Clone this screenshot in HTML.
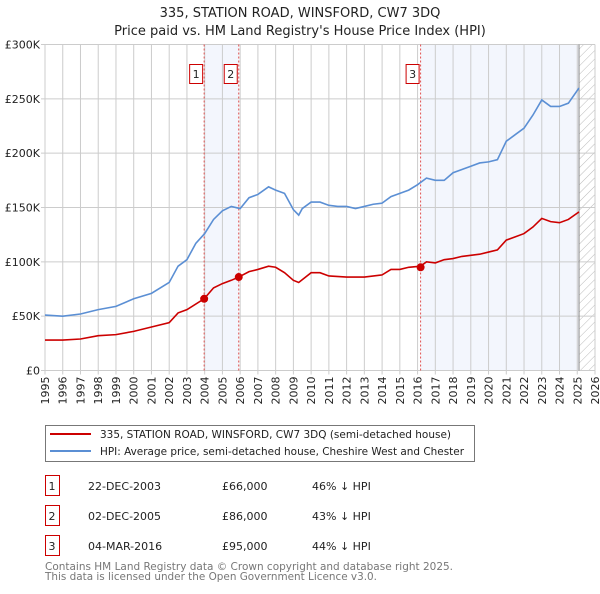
<!DOCTYPE html>
<html><head><meta charset="utf-8"><style>
body{margin:0;background:#fff;font-family:"DejaVu Sans","Liberation Sans",sans-serif;}
svg text{font-family:"DejaVu Sans","Liberation Sans",sans-serif;}
</style></head><body>
<svg id="c" width="600" height="590" xmlns="http://www.w3.org/2000/svg">
<defs><pattern id="hatch" width="6" height="6" patternUnits="userSpaceOnUse" patternTransform="rotate(45)"><line x1="0" y1="0" x2="0" y2="6" stroke="#bbb" stroke-width="1"/></pattern></defs>
<text x="300" y="17" text-anchor="middle" font-size="13" fill="#222">335, STATION ROAD, WINSFORD, CW7 3DQ</text>
<text x="300" y="35" text-anchor="middle" font-size="13" fill="#222">Price paid vs. HM Land Registry's House Price Index (HPI)</text>
<g id="plot"></g>
<g>
<rect x="45.5" y="425.5" width="429" height="36" fill="#fff" stroke="#777"/>
<line x1="50" y1="434" x2="91" y2="434" stroke="#cc0000" stroke-width="2"/>
<text x="100" y="438" font-size="11" fill="#222" textLength="351" lengthAdjust="spacingAndGlyphs">335, STATION ROAD, WINSFORD, CW7 3DQ (semi-detached house)</text>
<line x1="50" y1="451" x2="91" y2="451" stroke="#5b8fd4" stroke-width="2"/>
<text x="100" y="455" font-size="11" fill="#222" textLength="364" lengthAdjust="spacingAndGlyphs">HPI: Average price, semi-detached house, Cheshire West and Chester</text>
</g>
<g id="tbl" font-size="11" fill="#222"></g>
<text x="45" y="570" font-size="11" fill="#777" textLength="408" lengthAdjust="spacingAndGlyphs">Contains HM Land Registry data © Crown copyright and database right 2025.</text>
<text x="45" y="580" font-size="11" fill="#777" textLength="332" lengthAdjust="spacingAndGlyphs">This data is licensed under the Open Government Licence v3.0.</text>
</svg>
<script>
const hpiYears=[1995,1996,1997,1998,1999,2000,2001,2002,2002.5,2003,2003.5,2004,2004.5,2005,2005.5,2006,2006.5,2007,2007.6,2008,2008.5,2009,2009.3,2009.5,2010,2010.5,2011,2011.5,2012,2012.5,2013,2013.5,2014,2014.5,2015,2015.5,2016,2016.5,2017,2017.5,2018,2018.5,2019,2019.5,2020,2020.5,2021,2021.5,2022,2022.5,2023,2023.5,2024,2024.5,2025.1];
const hpiValues=[51,50,52,56,59,66,71,81,96,102,117,126,139,147,151,149,159,162,169,166,163,148,143,149,155,155,152,151,151,149,151,153,154,160,163,166,171,177,175,175,182,185,188,191,192,194,211,217,223,235,249,243,243,246,260];
const propYears=[1995,1996,1997,1998,1999,2000,2001,2002,2002.5,2003,2003.97,2004.5,2005,2005.5,2005.92,2006.5,2007,2007.6,2008,2008.5,2009,2009.3,2010,2010.5,2011,2012,2013,2014,2014.5,2015,2015.5,2016.17,2016.5,2017,2017.5,2018,2018.5,2019,2019.5,2020,2020.5,2021,2021.5,2022,2022.5,2023,2023.5,2024,2024.5,2025.1];
const propValues=[28,28,29,32,33,36,40,44,53,56,66,76,80,83,86,91,93,96,95,90,83,81,90,90,87,86,86,88,93,93,95,96,100,99,102,103,105,106,107,109,111,120,123,126,132,140,137,136,139,146];
const saleLabels=["1","2","3"];
const saleYears=[2003.97,2005.92,2016.17];
const saleValues=[66,86,95];
const saleDates=["22-DEC-2003","02-DEC-2005","04-MAR-2016"];
const salePrices=["£66,000","£86,000","£95,000"];
const saleDiffs=["46% ↓ HPI","43% ↓ HPI","44% ↓ HPI"];
const yTicks=[0,50,100,150,200,250,300];
const yTickLabels=["£0","£50K","£100K","£150K","£200K","£250K","£300K"];
const xTicks=[1995,1996,1997,1998,1999,2000,2001,2002,2003,2004,2005,2006,2007,2008,2009,2010,2011,2012,2013,2014,2015,2016,2017,2018,2019,2020,2021,2022,2023,2024,2025,2026];
const dataEnd=2025.1;

const X0=45,X1=595,Y0=370.5,Y1=44.5;
const xs=y=>X0+(y-1995)/(2026-1995)*(X1-X0);
const ys=v=>Y0-v/300*(Y0-Y1);
const NS="http://www.w3.org/2000/svg";
const plot=document.getElementById('plot');
function mk(tag,attrs,parent){const e=document.createElementNS(NS,tag);for(const k in attrs)e.setAttribute(k,attrs[k]);(parent||plot).appendChild(e);return e;}

let r=mk('rect',{x:xs(saleYears[0]),y:Y1,width:xs(saleYears[1])-xs(saleYears[0]),height:Y0-Y1,fill:'#f3f6fd'});


r=mk('rect',{x:xs(saleYears[2]),y:Y1,width:xs(dataEnd)-xs(saleYears[2]),height:Y0-Y1,fill:'#f3f6fd'});


r=mk('rect',{x:xs(dataEnd),y:Y1,width:X1-xs(dataEnd),height:Y0-Y1,fill:'url(#hatch)'});



xTicks.forEach(t=>{
  const l=mk('line',{x1:xs(t),x2:xs(t),y1:Y1,y2:Y0+4,stroke:'#ccc','stroke-width':1});
  
  
  const tx=mk('text',{x:0,y:0,transform:`translate(${xs(t)+4},${Y0+6}) rotate(-90)`,'text-anchor':'end','font-size':11,fill:'#222'});
  tx.textContent=t;
  
  
});
yTicks.forEach((t,i)=>{
  const l=mk('line',{x1:X0-4,x2:X1,y1:ys(t),y2:ys(t),stroke:'#ccc','stroke-width':1});
  
  
  const tx=mk('text',{x:X0-5,y:ys(t)+4,'text-anchor':'end','font-size':11,fill:'#222'});
  tx.textContent=yTickLabels[i];
  
  
});
const ed=mk('line',{x1:xs(dataEnd),x2:xs(dataEnd),y1:Y1,y2:Y0,stroke:'#888','stroke-width':1});



saleYears.forEach((y,i)=>{
  const l=mk('line',{x1:xs(y),x2:xs(y),y1:Y1,y2:Y0,stroke:'#e05050','stroke-width':1,'stroke-dasharray':'2,2'});
  
  
  const b=mk('rect',{x:xs(y)-14.5,y:64.5,width:13,height:19,fill:'#fff',stroke:'#cc0000'});
  
  
  const t=mk('text',{x:xs(y)-8,y:78,'text-anchor':'middle','font-size':11,fill:'#222'});
  t.textContent=saleLabels[i];
  
  
});

const hp=mk('polyline',{points:hpiYears.map((y,i)=>xs(y)+','+ys(hpiValues[i])).join(' '),fill:'none',stroke:'#5b8fd4','stroke-width':1.6});


const pp=mk('polyline',{points:propYears.map((y,i)=>xs(y)+','+ys(propValues[i])).join(' '),fill:'none',stroke:'#cc0000','stroke-width':1.6});


saleYears.forEach((y,i)=>{
  const c=mk('circle',{cx:xs(y),cy:ys(saleValues[i]),r:4,fill:'#cc0000'});
  
  
});

const tbl=document.getElementById('tbl');
saleLabels.forEach((s,i)=>{
  const yb=476+i*30;
  const b=mk('rect',{x:45.5,y:yb-0.5,width:14,height:20,fill:'#fff',stroke:'#cc0000'},tbl);
  
  
  const cells=[[52,s,'middle'],[88,saleDates[i],'start'],[222,salePrices[i],'start'],[312,saleDiffs[i],'start']];
  cells.forEach(c=>{
    const t=mk('text',{x:c[0],y:yb+14,'text-anchor':c[2],'font-size':11,fill:'#222'},tbl);
    t.textContent=c[1];
    
    
  });
});
</script>
</body></html>
